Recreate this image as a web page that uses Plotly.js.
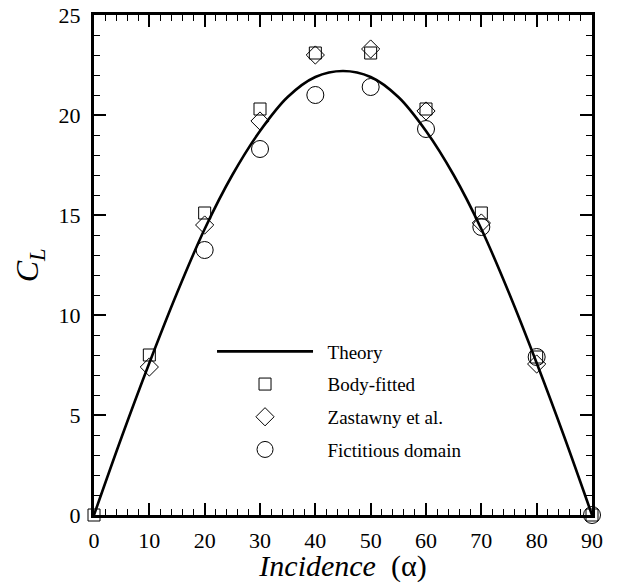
<!DOCTYPE html>
<html>
<head>
<meta charset="utf-8">
<script src="https://cdn.plot.ly/plotly-3.0.1.min.js"></script>
<style>html,body{margin:0;padding:0;background:#fff;}#chart{width:636px;height:583px;}</style>
</head>
<body>
<div id="chart"></div>
<script>
// Theory curve
var theoryAlpha = [0, 5, 10, 15, 20, 25, 30, 35, 40, 45, 50, 55, 60, 65, 70, 75, 80, 85, 90];
var theoryCL    = [0, 3.9, 7.6, 11.1, 14.3, 17.0, 19.2, 20.9, 21.9, 22.2, 21.9, 20.9, 19.2, 17.0, 14.3, 11.1, 7.6, 3.9, 0];

// Body-fitted (squares)
var bodyAlpha = [0, 10, 20, 30, 40, 50, 60, 70, 80, 90];
var bodyCL    = [0, 8.0, 15.1, 20.3, 23.1, 23.1, 20.3, 15.1, 7.9, 0];

// Zastawny et al. (diamonds)
var zasAlpha = [10, 20, 30, 40, 50, 60, 70, 80];
var zasCL    = [7.4, 14.5, 19.7, 23.0, 23.3, 20.2, 14.6, 7.55];

// Fictitious domain (circles)
var fdAlpha = [20, 30, 40, 50, 60, 70, 80, 90];
var fdCL    = [13.25, 18.3, 21.0, 21.4, 19.3, 14.4, 7.9, 0];

var legendNames = ['Theory', 'Body-fitted', 'Zastawny et al.', 'Fictitious domain'];

var xTickVals = [0, 10, 20, 30, 40, 50, 60, 70, 80, 90];
var yTickVals = [0, 5, 10, 15, 20, 25];

var serif = 'Liberation Serif';
var pad = '&nbsp;&nbsp;';

var traces = [
  {x: theoryAlpha, y: theoryCL, name: pad + legendNames[0], mode: 'lines', type: 'scatter',
   line: {color: '#000', width: 2.6, shape: 'spline'}, legendgroup: 'a', cliponaxis: false},
  {x: bodyAlpha, y: bodyCL, name: pad + legendNames[1], mode: 'markers', type: 'scatter',
   marker: {symbol: 'square-open', size: 12, color: '#000', line: {width: 1, color: '#000'}}, legendgroup: 'b', cliponaxis: false},
  {x: zasAlpha, y: zasCL, name: pad + legendNames[2], mode: 'markers', type: 'scatter',
   marker: {symbol: 'diamond-open', size: 14, color: '#000', line: {width: 1, color: '#000'}}, legendgroup: 'c', cliponaxis: false},
  {x: fdAlpha, y: fdCL, name: pad + legendNames[3], mode: 'markers', type: 'scatter',
   marker: {symbol: 'circle-open', size: 17, color: '#000', line: {width: 1, color: '#000'}}, legendgroup: 'd', cliponaxis: false}
];

function axisBase() {
  return {
    showgrid: false, zeroline: false,
    showline: true, linecolor: '#000', linewidth: 3, mirror: 'ticks',
    ticks: 'inside', ticklen: 12, tickwidth: 2, tickcolor: '#000',
    tickfont: {family: serif, size: 22, color: '#000'}
  };
}

var xaxis = axisBase();
xaxis.range = [0, 90];
xaxis.tickmode = 'array';
xaxis.tickvals = xTickVals;
xaxis.minor = {dtick: 2, ticks: 'inside', ticklen: 6, tickwidth: 1, tickcolor: '#000'};
xaxis.ticklabelstandoff = 4;
xaxis.title = {text: '<i>Incidence</i>&nbsp;&nbsp;(α)', font: {family: serif, size: 30, color: '#000'}, standoff: 4};

var yaxis = axisBase();
yaxis.range = [0, 25];
yaxis.tickmode = 'array';
yaxis.tickvals = yTickVals;
yaxis.minor = {dtick: 1, ticks: 'inside', ticklen: 6, tickwidth: 1, tickcolor: '#000'};
yaxis.ticklabelstandoff = 6;

var layout = {
  width: 636, height: 583,
  margin: {l: 94, r: 44, t: 15, b: 68},
  paper_bgcolor: '#fff', plot_bgcolor: '#fff',
  font: {family: serif, color: '#000'},
  xaxis: xaxis,
  yaxis: yaxis,
  showlegend: true,
  legend: {
    x: 0.237, y: 0.365, xanchor: 'left', yanchor: 'top',
    bgcolor: 'rgba(0,0,0,0)', borderwidth: 0,
    font: {family: serif, size: 19, color: '#000'},
    itemwidth: 96, tracegroupgap: 5
  },
  annotations: [{
    xref: 'paper', yref: 'paper', x: -0.13, y: 0.5, xanchor: 'center', yanchor: 'middle',
    text: '<i>C<sub>L</sub></i>', textangle: -90, showarrow: false,
    font: {family: serif, size: 32, color: '#000'}
  }]
};

Plotly.newPlot('chart', traces, layout, {displayModeBar: false, staticPlot: true});
</script>
</body>
</html>
